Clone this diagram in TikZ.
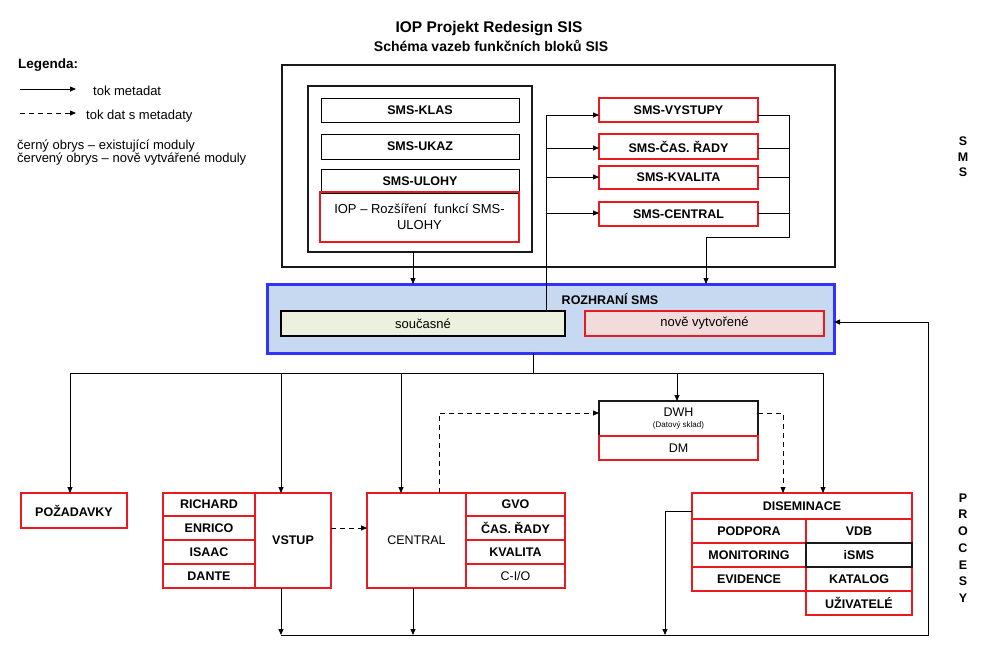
\documentclass[tikz,border=0pt]{standalone}
\usepackage{fontspec}
\setmainfont{Liberation Sans}
\usetikzlibrary{arrows.meta}
\definecolor{myred}{HTML}{E81A20}
\definecolor{rozf}{HTML}{C6D9F1}
\definecolor{rozb}{HTML}{3333FF}
\definecolor{curf}{HTML}{EBF1DE}
\definecolor{newf}{HTML}{F2DCDB}
\tikzset{
  base/.style={inner sep=0pt, outer sep=0pt, align=center},
  blk/.style={base, draw=black, line width=1pt},
  blkt/.style={base, draw=black!90, line width=2pt},
  redbox/.style={base, draw=myred, line width=2pt},
  lbl/.style={font=\fontsize{12.5}{15}\selectfont\bfseries},
  reg/.style={font=\fontsize{12.5}{15}\selectfont},
  txt/.style={inner sep=0pt, font=\fontsize{13}{15.5}\selectfont},
  arr/.style={-{Triangle[length=6pt,width=5pt]}, line width=0.8pt},
  darr/.style={arr, dash pattern=on 5pt off 4pt},
  rozst/.style={base, draw=rozb, fill=rozf, line width=3pt},
  curst/.style={base, draw=black, fill=curf, line width=2pt, font=\fontsize{13}{15}\selectfont},
  newst/.style={base, draw=myred, fill=newf, line width=2pt, font=\fontsize{13}{15}\selectfont},
}
\newcommand{\bx}[7]{\node[#1, minimum width={#5-#3}, minimum height={#6-#4}] (#2) at ({(#3+#5)/2},{(#4+#6)/2}) {#7};}
\begin{document}
\begin{tikzpicture}[x=1pt,y=-1pt]
\useasboundingbox[fill=white] (0,0) rectangle (983,646);
% title
\node[font=\fontsize{15.5}{18}\selectfont\bfseries] (t1) at (489,29) {IOP Projekt Redesign SIS};
\node[font=\fontsize{14}{16}\selectfont\bfseries] (t2) at (491,46) {Schéma vazeb funkčních bloků SIS};
% legend
\node[anchor=west, inner sep=0pt, font=\fontsize{13.5}{15}\selectfont\bfseries] (leg) at (18,65) {Legenda:};
\coordinate (la1) at (20,89); \coordinate (la2) at (76,89);
\draw[arr] (la1) -- (la2);
\node[anchor=west, txt] (lt1) at (93,91) {tok metadat};
\coordinate (lb1) at (20,113); \coordinate (lb2) at (76,113);
\draw[darr] (lb1) -- (lb2);
\node[anchor=west, txt] (lt2) at (86,116) {tok dat s metadaty};
\node[anchor=west, txt] (lt3) at (17,146) {černý obrys – existující moduly};
\node[anchor=west, txt] (lt4) at (17,159.5) {červený obrys – nově vytvářené moduly};
% SMS block
\bx{blkt}{smsout}{282}{65}{835}{267}{}
\bx{blkt}{smsin}{308}{86}{532}{252}{}
\bx{blk,lbl}{klas}{321}{98}{519}{122}{SMS-KLAS}
\bx{blk,lbl}{ukaz}{321}{134}{519}{159}{SMS-UKAZ}
\bx{blk,lbl}{uloh}{321}{169}{519}{193}{SMS-ULOHY}
\bx{redbox,txt}{iop}{320}{192}{519}{242}{IOP – Rozšíření\ \ funkcí SMS-\\ULOHY}
\bx{redbox,lbl}{vys}{599}{98}{758}{122}{SMS-VYSTUPY}
\bx{redbox,lbl}{cas}{599}{134}{758}{159}{SMS-ČAS. ŘADY}
\bx{redbox,lbl}{kva}{599}{166}{758}{189}{SMS-KVALITA}
\bx{redbox,lbl}{cen}{599}{202}{758}{226}{SMS-CENTRAL}
% rozhrani
\bx{rozst}{roz}{267}{284}{834}{353}{}
\node[inner sep=0pt, font=\fontsize{12.5}{14}\selectfont\bfseries] (rozt) at (610,299) {ROZHRANÍ SMS};
\bx{curst}{cur}{281}{311}{565}{336}{současné}
\bx{newst}{new}{585}{311}{824}{336}{nově vytvořené}
% SMS connectors
\coordinate (L1) at (546,115); \coordinate (L2) at (546,148);
\coordinate (L3) at (546,177); \coordinate (L4) at (546,213);
\draw[line width=0.8pt] (L1) -- (L1 |- cur.north);
\draw[arr] (L1) -- (L1 -| vys.west);
\draw[arr] (L2) -- (L2 -| cas.west);
\draw[arr] (L3) -- (L3 -| kva.west);
\draw[arr] (L4) -- (L4 -| cen.west);
\coordinate (R1) at (789,115); \coordinate (R2) at (789,148);
\coordinate (R3) at (789,177); \coordinate (R4) at (789,213);
\coordinate (R5) at (789,237); \coordinate (R6) at (706,237);
\draw[line width=0.8pt] (vys.east |- R1) -- (R1);
\draw[line width=0.8pt] (cas.east |- R2) -- (R2);
\draw[line width=0.8pt] (kva.east |- R3) -- (R3);
\draw[line width=0.8pt] (cen.east |- R4) -- (R4);
\draw[arr] (R1) -- (R5) -- (R6) -- (R6 |- roz.north);
\coordinate (ia) at (413,252);
\draw[arr] (ia) -- (ia |- roz.north);
% processes
\bx{redbox,lbl}{poz}{21}{493}{127}{528}{POŽADAVKY}
\bx{redbox,lbl}{ric}{163}{493}{255}{516}{RICHARD}
\bx{redbox,lbl}{enr}{163}{516}{255}{540}{ENRICO}
\bx{redbox,lbl}{isa}{163}{540}{255}{564}{ISAAC}
\bx{redbox,lbl}{dan}{163}{564}{255}{588}{DANTE}
\bx{redbox,lbl}{vst}{255}{493}{331}{588}{VSTUP}
\bx{redbox,reg}{ctr}{367}{493}{466}{588}{CENTRAL}
\bx{redbox,lbl}{gvo}{466}{493}{565}{516}{GVO}
\bx{redbox,lbl}{cra}{466}{516}{565}{540}{ČAS. ŘADY}
\bx{redbox,lbl}{kvl}{466}{540}{565}{564}{KVALITA}
\bx{redbox,reg}{cio}{466}{564}{565}{588}{C-I/O}
\bx{blkt,reg}{dwh}{599}{401}{758}{436}{DWH\\[-4pt]{\fontsize{8}{9}\selectfont(Datový sklad)}}
\bx{redbox,reg}{dm}{599}{436}{758}{460}{DM}
\bx{redbox,lbl}{dis}{692}{493}{912}{519}{DISEMINACE}
\bx{redbox,lbl}{pod}{692}{519}{806}{543}{PODPORA}
\bx{redbox,lbl}{mon}{692}{543}{806}{567}{MONITORING}
\bx{redbox,lbl}{evi}{692}{567}{806}{591}{EVIDENCE}
\bx{redbox,lbl}{vdb}{806}{519}{912}{543}{VDB}
\bx{redbox,lbl}{kat}{806}{567}{912}{591}{KATALOG}
\bx{redbox,lbl}{uzi}{806}{591}{912}{615}{UŽIVATELÉ}
\bx{blkt,lbl}{isms}{806}{543}{912}{567}{iSMS}
% process connectors
\coordinate (rb) at (533,373);
\draw[line width=0.8pt] (rb |- roz.south) -- (rb);
\coordinate (h1) at (70,373); \coordinate (h2) at (823,373);
\coordinate (h3) at (281,373); \coordinate (h4) at (401,373);
\coordinate (h5) at (677,373);
\draw[line width=0.8pt] (h1) -- (h2);
\draw[arr] (h1) -- (h1 |- poz.north);
\draw[arr] (h3) -- (h3 |- vst.north);
\draw[arr] (h4) -- (h4 |- ctr.north);
\draw[arr] (h5) -- (h5 |- dwh.north);
\draw[arr] (h2) -- (h2 |- dis.north);
\coordinate (d1) at (439,413);
\draw[darr] (d1 |- ctr.north) -- (d1) -- (d1 -| dwh.west);
\coordinate (d2) at (783,413);
\draw[darr] (d2 -| dwh.east) -- (d2) -- (d2 |- dis.north);
\coordinate (d3) at (349,528);
\draw[darr] (d3 -| vst.east) -- (d3 -| ctr.west);
\coordinate (b1) at (281,635); \coordinate (b2) at (413,635);
\coordinate (b3) at (665,635); \coordinate (b4) at (928,635);
\coordinate (b5) at (928,322); \coordinate (b6) at (665,511);
\draw[arr] (b1 |- vst.south) -- (b1);
\draw[arr] (b2 |- ctr.south) -- (b2);
\draw[arr] (b6 -| dis.west) -- (b6) -- (b3);
\draw[arr] (b1) -- (b4) -- (b5) -- (b5 -| roz.east);
% side labels
\node[align=center, inner sep=0pt, font=\fontsize{12.5}{15.5}\selectfont\bfseries] (sms) at (963,157) {S\\M\\S};
\node[align=center, inner sep=0pt, font=\fontsize{12.5}{16.7}\selectfont\bfseries] (proc) at (963,548) {P\\R\\O\\C\\E\\S\\Y};
\end{tikzpicture}
\end{document}
